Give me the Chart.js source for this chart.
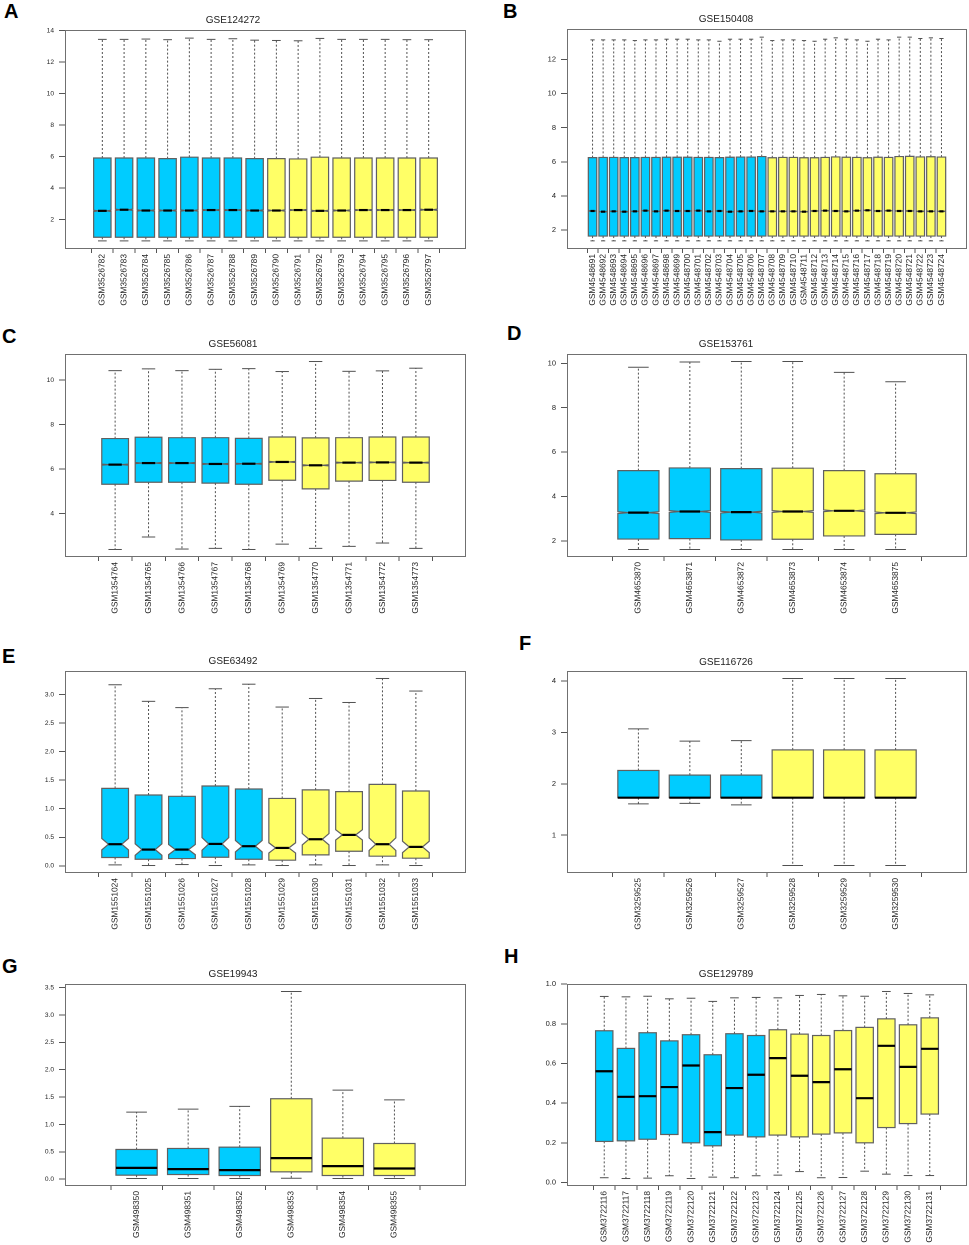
<!DOCTYPE html>
<html><head><meta charset="utf-8">
<script src="https://cdn.jsdelivr.net/npm/chart.js@4.4.0/dist/chart.umd.min.js"></script>
<style>
html,body{margin:0;padding:0;background:#fff;}
#fig{position:relative;width:969px;height:1245px;overflow:hidden;background:#fff;}
#fig canvas{position:absolute;}
.lab{position:absolute;font-family:"Liberation Sans",Arial,sans-serif;font-weight:bold;font-size:20px;line-height:20px;color:#000;}
</style></head><body><div id="fig"></div>
<script>
// ---------- Panel A : GSE124272 ----------
const labelsA = ["GSM3526782","GSM3526783","GSM3526784","GSM3526785","GSM3526786","GSM3526787","GSM3526788","GSM3526789","GSM3526790","GSM3526791","GSM3526792","GSM3526793","GSM3526794","GSM3526795","GSM3526796","GSM3526797"];
const maxA = [13.45,13.45,13.47,13.43,13.53,13.45,13.49,13.40,13.38,13.36,13.51,13.45,13.45,13.45,13.43,13.43];
const q3A  = [5.91,5.91,5.91,5.87,5.96,5.91,5.91,5.87,5.87,5.85,5.96,5.91,5.91,5.91,5.91,5.91];
const medA = [2.55,2.62,2.57,2.57,2.57,2.60,2.60,2.57,2.57,2.60,2.55,2.57,2.60,2.60,2.60,2.62];
const q1A  = [0.87,0.87,0.87,0.87,0.87,0.87,0.87,0.87,0.87,0.87,0.87,0.87,0.87,0.87,0.87,0.87];
const minA = [0.64,0.64,0.64,0.64,0.64,0.64,0.64,0.64,0.64,0.64,0.64,0.64,0.64,0.64,0.64,0.64];
const notchA = [0.04,0.04,0.04,0.04,0.04,0.04,0.04,0.04,0.04,0.04,0.04,0.04,0.04,0.04,0.04,0.04];
const yTicksA = [2,4,6,8,10,12,14];

// ---------- Panel B : GSE150408 ----------
const labelsB = ["GSM4548691","GSM4548692","GSM4548693","GSM4548694","GSM4548695","GSM4548696","GSM4548697","GSM4548698","GSM4548699","GSM4548700","GSM4548701","GSM4548702","GSM4548703","GSM4548704","GSM4548705","GSM4548706","GSM4548707","GSM4548708","GSM4548709","GSM4548710","GSM4548711","GSM4548712","GSM4548713","GSM4548714","GSM4548715","GSM4548716","GSM4548717","GSM4548718","GSM4548719","GSM4548720","GSM4548721","GSM4548722","GSM4548723","GSM4548724"];
const maxB = [13.15,13.15,13.15,13.15,13.11,13.15,13.15,13.19,13.19,13.19,13.15,13.15,13.07,13.19,13.19,13.19,13.31,13.11,13.15,13.15,13.11,13.07,13.19,13.27,13.19,13.15,13.07,13.19,13.15,13.31,13.31,13.23,13.27,13.23];
const q3B  = [6.25,6.26,6.26,6.25,6.25,6.26,6.26,6.27,6.27,6.27,6.26,6.26,6.25,6.27,6.28,6.28,6.31,6.24,6.26,6.26,6.24,6.24,6.26,6.29,6.27,6.26,6.24,6.27,6.26,6.31,6.32,6.29,6.30,6.28];
const medB = [3.12,3.08,3.10,3.08,3.10,3.14,3.10,3.14,3.12,3.12,3.14,3.10,3.12,3.08,3.10,3.12,3.10,3.10,3.10,3.10,3.08,3.12,3.14,3.12,3.10,3.14,3.16,3.12,3.14,3.12,3.12,3.10,3.10,3.10];
const q1B  = [1.65,1.65,1.65,1.65,1.65,1.65,1.65,1.65,1.65,1.65,1.65,1.65,1.65,1.65,1.65,1.65,1.65,1.65,1.65,1.65,1.65,1.65,1.65,1.65,1.65,1.65,1.65,1.65,1.65,1.65,1.65,1.65,1.65,1.65];
const minB = [1.37,1.37,1.37,1.37,1.37,1.37,1.37,1.37,1.37,1.37,1.37,1.37,1.37,1.37,1.37,1.37,1.37,1.37,1.37,1.37,1.37,1.37,1.37,1.37,1.37,1.37,1.37,1.37,1.37,1.37,1.37,1.37,1.37,1.37];
const notchB = [0.02,0.02,0.02,0.02,0.02,0.02,0.02,0.02,0.02,0.02,0.02,0.02,0.02,0.02,0.02,0.02,0.02,0.02,0.02,0.02,0.02,0.02,0.02,0.02,0.02,0.02,0.02,0.02,0.02,0.02,0.02,0.02,0.02,0.02];
const yTicksB = [2,4,6,8,10,12];

// ---------- Panel C : GSE56081 ----------
const labelsC = ["GSM1354764","GSM1354765","GSM1354766","GSM1354767","GSM1354768","GSM1354769","GSM1354770","GSM1354771","GSM1354772","GSM1354773"];
const maxC = [10.42,10.50,10.42,10.48,10.51,10.38,10.83,10.39,10.41,10.53];
const q3C  = [7.37,7.43,7.41,7.41,7.38,7.44,7.40,7.41,7.44,7.44];
const medC = [6.20,6.27,6.27,6.23,6.24,6.32,6.17,6.29,6.30,6.29];
const q1C  = [5.32,5.41,5.41,5.37,5.32,5.50,5.11,5.46,5.49,5.41];
const minC = [2.39,2.95,2.41,2.44,2.39,2.63,2.44,2.53,2.68,2.44];
const notchC = [0.025,0.025,0.025,0.025,0.025,0.025,0.025,0.025,0.025,0.025];
const yTicksC = [4,6,8,10];

// ---------- Panel D : GSE153761 ----------
const labelsD = ["GSM4653870","GSM4653871","GSM4653872","GSM4653873","GSM4653874","GSM4653875"];
const maxD = [9.82,10.06,10.08,10.08,9.59,9.17];
const q3D  = [5.17,5.29,5.26,5.28,5.17,5.03];
const medD = [3.28,3.33,3.30,3.33,3.36,3.27];
const q1D  = [2.09,2.11,2.05,2.08,2.23,2.30];
const minD = [1.62,1.62,1.62,1.62,1.62,1.62];
const notchD = [0.04,0.04,0.04,0.04,0.04,0.04];
const yTicksD = [2,4,6,8,10];

// ---------- Panel E : GSE63492 ----------
const labelsE = ["GSM1551024","GSM1551025","GSM1551026","GSM1551027","GSM1551028","GSM1551029","GSM1551030","GSM1551031","GSM1551032","GSM1551033"];
const maxE = [3.17,2.88,2.77,3.10,3.18,2.78,2.93,2.86,3.28,3.06];
const q3E  = [1.357,1.24,1.217,1.398,1.345,1.18,1.33,1.30,1.427,1.31];
const medE = [0.379,0.285,0.285,0.384,0.344,0.314,0.466,0.542,0.379,0.332];
const q1E  = [0.146,0.116,0.128,0.151,0.116,0.099,0.192,0.256,0.169,0.134];
const minE = [0.017,0.006,0.023,0.006,0.017,0.006,0.017,0.006,0.017,0.006];
const notchE = [0.10,0.10,0.09,0.11,0.10,0.09,0.10,0.09,0.11,0.10];
const yTicksE = [0,0.5,1,1.5,2,2.5,3];

// ---------- Panel F : GSE116726 ----------
const labelsF = ["GSM3259525","GSM3259526","GSM3259527","GSM3259528","GSM3259529","GSM3259530"];
const maxF = [3.07,2.83,2.84,4.05,4.05,4.05];
const q3F  = [2.26,2.17,2.17,2.66,2.66,2.66];
const medF = [1.73,1.73,1.73,1.73,1.73,1.73];
const q1F  = [1.73,1.73,1.73,1.73,1.73,1.73];
const minF = [1.61,1.62,1.59,0.41,0.41,0.41];
const notchF = [0,0,0,0,0,0];
const yTicksF = [1,2,3,4];

// ---------- Panel G : GSE19943 ----------
const labelsG = ["GSM498350","GSM498351","GSM498352","GSM498353","GSM498354","GSM498355"];
const maxG = [1.226,1.28,1.33,3.43,1.628,1.45];
const q3G  = [0.543,0.561,0.585,1.47,0.75,0.652];
const medG = [0.207,0.183,0.165,0.384,0.238,0.195];
const q1G  = [0.073,0.085,0.067,0.134,0.067,0.067];
const minG = [0.012,0.012,0.012,0.018,0.012,0.012];
const notchG = [0,0,0,0,0,0];
const yTicksG = [0,0.5,1,1.5,2,2.5,3,3.5];

// ---------- Panel H : GSE129789 ----------
const labelsH = ["GSM3722116","GSM3722117","GSM3722118","GSM3722119","GSM3722120","GSM3722121","GSM3722122","GSM3722123","GSM3722124","GSM3722125","GSM3722126","GSM3722127","GSM3722128","GSM3722129","GSM3722130","GSM3722131"];
const maxH = [0.938,0.936,0.939,0.926,0.929,0.913,0.931,0.933,0.931,0.943,0.948,0.941,0.939,0.963,0.953,0.946];
const q3H  = [0.765,0.676,0.755,0.714,0.745,0.644,0.750,0.741,0.770,0.748,0.741,0.766,0.782,0.825,0.795,0.830];
const medH = [0.561,0.432,0.435,0.481,0.590,0.254,0.476,0.543,0.627,0.538,0.506,0.571,0.425,0.689,0.583,0.674];
const q1H  = [0.207,0.210,0.218,0.242,0.200,0.185,0.239,0.230,0.239,0.230,0.244,0.250,0.200,0.277,0.297,0.345];
const minH = [0.024,0.020,0.022,0.034,0.020,0.027,0.024,0.034,0.037,0.055,0.024,0.025,0.057,0.042,0.035,0.035];
const notchH = [0,0,0,0,0,0,0,0,0,0,0,0,0,0,0,0];
const yTicksH = [0,0.2,0.4,0.6,0.8,1.0];

// group sizes (first n samples = group 1, cyan)
const group1Count = {A:8, B:17, C:5, D:3, E:5, F:3, G:3, H:8};
const titles = {A:"GSE124272", B:"GSE150408", C:"GSE56081", D:"GSE153761", E:"GSE63492", F:"GSE116726", G:"GSE19943", H:"GSE129789"};
const yDecimals = {A:0, B:0, C:0, D:0, E:1, F:0, G:1, H:1};

const COL1 = "#00CCFF", COL2 = "#FFFF66";
const FONT = '"Liberation Sans", Arial, sans-serif';
Chart.defaults.font.family = FONT;

const panels = [
  {key:"A", labels:labelsA, min:minA, q1:q1A, med:medA, q3:q3A, max:maxA, notch:notchA, yTicks:yTicksA},
  {key:"B", labels:labelsB, min:minB, q1:q1B, med:medB, q3:q3B, max:maxB, notch:notchB, yTicks:yTicksB},
  {key:"C", labels:labelsC, min:minC, q1:q1C, med:medC, q3:q3C, max:maxC, notch:notchC, yTicks:yTicksC},
  {key:"D", labels:labelsD, min:minD, q1:q1D, med:medD, q3:q3D, max:maxD, notch:notchD, yTicks:yTicksD},
  {key:"E", labels:labelsE, min:minE, q1:q1E, med:medE, q3:q3E, max:maxE, notch:notchE, yTicks:yTicksE},
  {key:"F", labels:labelsF, min:minF, q1:q1F, med:medF, q3:q3F, max:maxF, notch:notchF, yTicks:yTicksF},
  {key:"G", labels:labelsG, min:minG, q1:q1G, med:medG, q3:q3G, max:maxG, notch:notchG, yTicks:yTicksG},
  {key:"H", labels:labelsH, min:minH, q1:q1H, med:medH, q3:q3H, max:maxH, notch:notchH, yTicks:yTicksH}
];

// layout (page pixels): canvas box, plot area, title centre, panel letter
const layout = {
  A:{cx:0,   cy:0,   cw:484, ch:310, x0:65,  x1:466, y0:30,  y1:249,  ty:20,  lx:4,   ly:1,   yfs:6.6},
  B:{cx:485, cy:0,   cw:484, ch:310, x0:567, x1:967, y0:29,  y1:249,  ty:19,  lx:503, ly:1,   yfs:7.5},
  C:{cx:0,   cy:310, cw:484, ch:310, x0:65,  x1:466, y0:354, y1:557,  ty:344, lx:2,   ly:326, yfs:6.6},
  D:{cx:485, cy:310, cw:484, ch:310, x0:567, x1:967, y0:354, y1:557,  ty:344, lx:507, ly:323, yfs:7.5},
  E:{cx:0,   cy:620, cw:484, ch:310, x0:65,  x1:466, y0:671, y1:873,  ty:661, lx:2,   ly:646, yfs:6.6},
  F:{cx:485, cy:620, cw:484, ch:310, x0:567, x1:967, y0:671, y1:873,  ty:662, lx:519, ly:633, yfs:7.5},
  G:{cx:0,   cy:930, cw:484, ch:315, x0:65,  x1:466, y0:984, y1:1186, ty:974, lx:2,   ly:956, yfs:6.6},
  H:{cx:485, cy:930, cw:484, ch:315, x0:567, x1:967, y0:984, y1:1186, ty:974, lx:504, ly:946, yfs:7.5}
};

const boxPlugin = {
  id: 'boxplot',
  afterDatasetsDraw(chart) {
    const p = chart.options.plugins.boxplot.panel;
    const ctx = chart.ctx, y = chart.scales.y;
    const meta = chart.getDatasetMeta(0);
    ctx.save();
    const line = (a,b,c,d) => { ctx.beginPath(); ctx.moveTo(a,b); ctx.lineTo(c,d); ctx.stroke(); };
    meta.data.forEach((bar, i) => {
      const cx = bar.x, hw = bar.width / 2;
      const xl = cx - hw, xr = cx + hw;
      const pQ1 = y.getPixelForValue(p.q1[i]), pQ3 = y.getPixelForValue(p.q3[i]);
      const pMed = y.getPixelForValue(p.med[i]);
      const pMin = y.getPixelForValue(p.min[i]), pMax = y.getPixelForValue(p.max[i]);
      const n = p.notch[i];
      // whiskers (dashed) and staples
      ctx.strokeStyle = '#505050'; ctx.lineWidth = 1;
      ctx.setLineDash([2, 2]);
      line(cx, pQ3, cx, pMax); line(cx, pQ1, cx, pMin);
      ctx.setLineDash([]);
      line(cx - hw/2, pMax, cx + hw/2, pMax);
      line(cx - hw/2, pMin, cx + hw/2, pMin);
      ctx.strokeStyle = '#606060'; ctx.lineWidth = 1.2;
      if (n > 0) {
        const pHi = y.getPixelForValue(p.med[i] + n), pLo = y.getPixelForValue(p.med[i] - n);
        const ins = hw * 0.5;
        ctx.fillStyle = '#fff';
        ctx.beginPath(); ctx.moveTo(xl - 0.6, pHi); ctx.lineTo(xl + ins, pMed); ctx.lineTo(xl - 0.6, pLo); ctx.closePath(); ctx.fill();
        ctx.beginPath(); ctx.moveTo(xr + 0.6, pHi); ctx.lineTo(xr - ins, pMed); ctx.lineTo(xr + 0.6, pLo); ctx.closePath(); ctx.fill();
        ctx.beginPath();
        ctx.moveTo(xl, pQ1); ctx.lineTo(xr, pQ1); ctx.lineTo(xr, pLo); ctx.lineTo(xr - ins, pMed);
        ctx.lineTo(xr, pHi); ctx.lineTo(xr, pQ3); ctx.lineTo(xl, pQ3); ctx.lineTo(xl, pHi);
        ctx.lineTo(xl + ins, pMed); ctx.lineTo(xl, pLo); ctx.closePath(); ctx.stroke();
        ctx.strokeStyle = '#000'; ctx.lineWidth = 2.2;
        line(xl + ins, pMed, xr - ins, pMed);
      } else {
        ctx.strokeRect(xl, pQ3, xr - xl, pQ1 - pQ3);
        ctx.strokeStyle = '#000'; ctx.lineWidth = 2.2;
        line(xl, pMed, xr, pMed);
      }
    });
    ctx.restore();
  },
  afterDraw(chart) {
    const a = chart.chartArea, ctx = chart.ctx;
    ctx.save();
    ctx.strokeStyle = '#707070'; ctx.lineWidth = 1;
    ctx.strokeRect(Math.round(a.left) + 0.5, Math.round(a.top) + 0.5, Math.round(a.right - a.left) - 1, Math.round(a.bottom - a.top) - 1);
    ctx.restore();
  }
};

const fig = document.getElementById('fig');

panels.forEach(p => {
  const L = layout[p.key];
  const n = p.labels.length;
  const lab = document.createElement('div');
  lab.className = 'lab'; lab.textContent = p.key;
  lab.style.left = L.lx + 'px'; lab.style.top = L.ly + 'px';
  fig.appendChild(lab);

  const cv = document.createElement('canvas');
  cv.width = L.cw; cv.height = L.ch;
  cv.style.left = L.cx + 'px'; cv.style.top = L.cy + 'px';
  cv.style.width = L.cw + 'px'; cv.style.height = L.ch + 'px';
  fig.appendChild(cv);

  const lo = Math.min(...p.min), hi = Math.max(...p.max);
  const ext = (hi - lo) * 0.04;
  const g1 = group1Count[p.key];
  const colors = p.labels.map((_, i) => i < g1 ? COL1 : COL2);
  const titleFs = 10, lh = titleFs * 1.2;
  const yw = L.x0 - L.cx, xh = (L.cy + L.ch) - L.y1, rp = (L.cx + L.cw) - L.x1;
  const dec = yDecimals[p.key];

  new Chart(cv, {
    type: 'bar',
    data: {
      datasets: [{
        data: p.labels.map((_, i) => ({x: i + 1, y: [p.q1[i], p.q3[i]]})),
        backgroundColor: colors,
        borderWidth: 0,
        categoryPercentage: 1.0,
        barPercentage: 0.8
      }]
    },
    options: {
      responsive: false,
      animation: false,
      devicePixelRatio: 2,
      layout: {padding: {left: 0, right: rp, top: 0, bottom: 0}},
      plugins: {
        legend: {display: false},
        tooltip: {enabled: false},
        title: {
          display: true, text: titles[p.key], color: '#222',
          font: {family: FONT, size: titleFs, weight: 'normal', lineHeight: 1.2},
          padding: {top: L.ty - L.cy - lh / 2, bottom: L.y0 - L.ty - lh / 2}
        },
        boxplot: {panel: p}
      },
      scales: {
        x: {
          type: 'linear', bounds: 'data',
          min: 0.5 - 0.04 * n, max: n + 0.5 + 0.04 * n,
          afterBuildTicks: s => { s.ticks = p.labels.map((_, i) => ({value: i + 1})); },
          ticks: {
            autoSkip: false, minRotation: 90, maxRotation: 90, padding: 1,
            color: '#222', font: {family: FONT, size: 8.4},
            callback: v => p.labels[Math.round(v) - 1] || ''
          },
          grid: {display: true, drawOnChartArea: false, drawTicks: true, tickLength: 4, color: '#555'},
          border: {display: false},
          afterFit: s => { s.height = xh; s.paddingLeft = 0; s.paddingRight = 0; }
        },
        y: {
          type: 'linear', bounds: 'data',
          min: lo - ext, max: hi + ext,
          afterBuildTicks: s => { s.ticks = p.yTicks.map(v => ({value: v})); },
          ticks: {
            autoSkip: false, padding: 5,
            color: '#222', font: {family: FONT, size: L.yfs},
            callback: v => Number(v).toFixed(dec)
          },
          grid: {display: true, drawOnChartArea: false, drawTicks: true, tickLength: 6, color: '#555'},
          border: {display: false},
          afterFit: s => { s.width = yw; s.paddingTop = 0; s.paddingBottom = 0; }
        }
      }
    },
    plugins: [boxPlugin]
  });
});
</script>
</body></html>
